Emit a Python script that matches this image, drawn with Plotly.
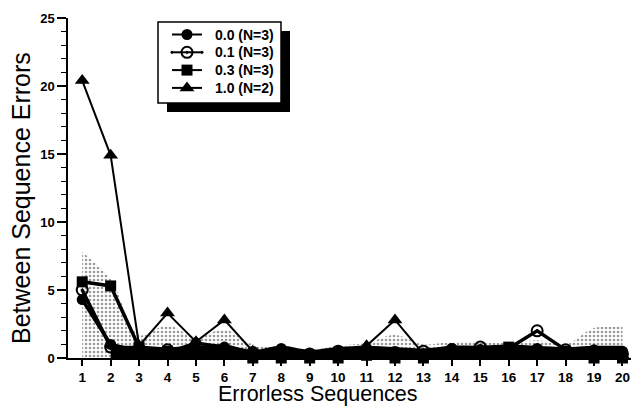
import plotly.graph_objects as go

# ---- data ----
seq = list(range(1, 21))
tick_vals_x = list(range(1, 21))
tick_vals_y = [0, 5, 10, 15, 20, 25]

s_00 = [4.3, 1.0, 0.5, 0.4, 1.1, 0.8, 0.3, 0.7, 0.2, 0.3, 0.4, 0.3, 0.2, 0.7, 0.6, 0.6, 0.7, 0.5, 0.6, 0.5]
s_01 = [5.0, 0.8, 0.7, 0.6, 0.5, 0.6, 0.4, 0.3, 0.3, 0.5, 0.4, 0.4, 0.5, 0.6, 0.8, 0.7, 2.0, 0.6, 0.3, 0.3]
s_03 = [5.6, 5.3, 0.8, 0.5, 0.3, 0.5, 0.0, 0.0, 0.0, 0.0, 0.2, 0.0, 0.0, 0.3, 0.4, 0.8, 0.5, 0.5, 0.0, 0.0]
s_10 = [20.4, 14.9, 0.9, 3.3, 1.2, 2.8, 0.5, 0.4, 0.3, 0.5, 0.9, 2.8, 0.3, 0.5, 0.6, 0.5, 0.6, 0.4, 0.4, 0.2]

band_upper = [7.8, 5.8, 1.7, 2.4, 1.5, 2.1, 1.0, 0.8, 0.6, 0.9, 1.1, 1.7, 1.0, 1.2, 1.2, 1.1, 1.3, 1.0, 2.2, 2.3]
band_dark_x = list(range(2, 21))
band_dark = [0.9, 0.9, 0.8, 0.9, 1.0, 0.6, 0.9, 0.6, 0.8, 0.9, 0.8, 0.7, 0.9, 0.9, 1.0, 0.9, 0.8, 0.9, 0.9]

names = ["0.0 (N=3)", "0.1 (N=3)", "0.3 (N=3)", "1.0 (N=2)"]
series = [s_00, s_01, s_03, s_10]
symbols = ["circle", "circle-open-dot", "square", "triangle-up"]
sizes = [11, 11, 11, 13]
widths = [3.5, 3.5, 3.5, 2]

FONT = "Liberation Sans, Arial, Helvetica, sans-serif"

# plot frame in pixels (used for a pixel overlay axis for legend & titles)
W, H = 631, 406
L, R, T, B = 68, 0, 18, 48


def px_to_paper(px, py):
    return (px - L) / (W - L - R), (H - B - py) / (H - T - B)


fig = go.Figure()

fig.add_trace(go.Scatter(
    x=seq, y=band_upper, mode="none", fill="tozeroy", line_shape="spline",
    fillcolor="rgba(0,0,0,0)",
    fillpattern=dict(shape=".", fgcolor="#333", size=4, solidity=0.33),
    showlegend=False, hoverinfo="skip"))
fig.add_trace(go.Scatter(
    x=band_dark_x, y=band_dark, mode="none", fill="tozeroy", line_shape="spline",
    fillcolor="black", showlegend=False, hoverinfo="skip"))

for nm, ys, sym, sz, w in zip(names, series, symbols, sizes, widths):
    fig.add_trace(go.Scatter(
        x=seq, y=ys, name=nm, mode="lines+markers",
        line=dict(color="black", width=w),
        marker=dict(symbol=sym, size=sz, color="black",
                    line=dict(color="black", width=2 if "open" in sym else 0)),
        cliponaxis=False, showlegend=False))

# ---- hand-made legend on a pixel overlay axis ----
box = dict(x0=158, x1=281, y0=22, y1=103)
shadow_off = 9
row0, row_gap = 34.5, 17.8
fig.add_shape(type="rect", xref="x2", yref="y2",
              x0=box["x0"] + shadow_off, x1=box["x1"] + shadow_off,
              y0=box["y0"] + shadow_off, y1=box["y1"] + shadow_off,
              fillcolor="black", line_width=0, layer="below")
fig.add_shape(type="rect", xref="x2", yref="y2", **box,
              fillcolor="white", line=dict(color="black", width=1.5), layer="below")
for i, (nm, sym, sz) in enumerate(zip(names, symbols, sizes)):
    ry = row0 + i * row_gap
    fig.add_trace(go.Scatter(
        x=[172, 187, 202], y=[ry, ry, ry], xaxis="x2", yaxis="y2",
        mode="lines+markers", line=dict(color="black", width=2),
        marker=dict(symbol=sym, size=[0, sz, 0], color="black", opacity=1,
                    line=dict(color="black", width=2 if "open" in sym else 0)),
        showlegend=False, hoverinfo="skip", cliponaxis=False))
    fig.add_annotation(x=213, y=ry, xref="x2", yref="y2", text=nm,
                       showarrow=False, xanchor="left", yanchor="middle",
                       font=dict(size=14, family=FONT, weight="bold", color="black"))

# axis titles (paper coordinates, placed from pixel positions)
xt_x, xt_y = px_to_paper(318, 393.5)
yt_x, yt_y = px_to_paper(21, 198)
fig.add_annotation(x=xt_x, y=xt_y, xref="paper", yref="paper", text="Errorless Sequences",
                   showarrow=False, xanchor="center", yanchor="middle",
                   font=dict(size=21.5, family=FONT, color="black"))
fig.add_annotation(x=yt_x, y=yt_y, xref="paper", yref="paper", text="Between Sequence Errors",
                   textangle=-90, showarrow=False, xanchor="center", yanchor="middle",
                   font=dict(size=25, family=FONT, color="black"))

fig.update_layout(
    width=W, height=H,
    margin=dict(l=L, r=R, t=T, b=B, autoexpand=False),
    paper_bgcolor="white", plot_bgcolor="white",
    font=dict(family=FONT, color="black", size=14),
    showlegend=False,
    xaxis=dict(range=[0.5, 20.3], tickmode="array", tickvals=tick_vals_x,
               ticks="outside", ticklen=6, tickwidth=1.5, tickcolor="black",
               showline=True, linecolor="black", linewidth=1.5,
               showgrid=False, zeroline=False, automargin=False,
               tickfont=dict(size=13.5, weight="bold")),
    yaxis=dict(range=[0, 25], tickmode="array", tickvals=tick_vals_y,
               ticks="outside", ticklen=9, tickwidth=1.5, tickcolor="black",
               minor=dict(dtick=1, ticks="outside", ticklen=5, tickcolor="black", tickwidth=1),
               showline=True, linecolor="black", linewidth=1.5,
               showgrid=False, zeroline=False, automargin=False,
               tickfont=dict(size=13, weight="bold")),
    xaxis2=dict(overlaying="x", range=[L, W - R], visible=False, fixedrange=True),
    yaxis2=dict(overlaying="y", range=[H - B, T], visible=False, fixedrange=True),
)

fig.write_html("out.html", config={"displayModeBar": False},
               post_script="document.body.style.margin='0';document.body.style.padding='0';")
